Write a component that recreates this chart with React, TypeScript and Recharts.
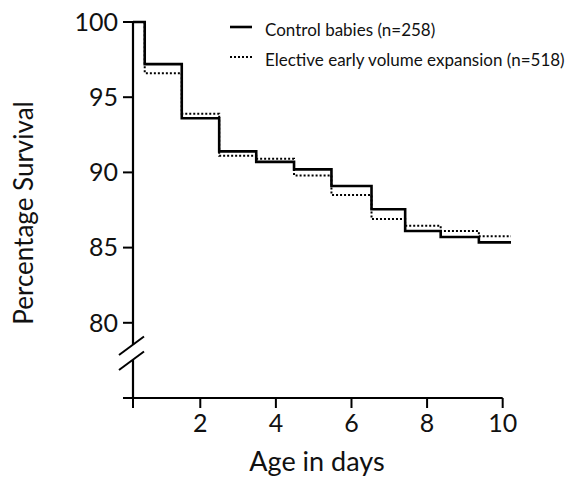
import { LineChart, Line, XAxis, YAxis, ReferenceLine } from 'recharts'

// Kaplan-Meier style survival steps
const days = [0.22, 0.53, 1.51, 2.5, 3.48, 4.48, 5.47, 6.53, 7.42, 8.36, 9.37, 10.22]
const control = [100, 97.2, 93.6, 91.4, 90.7, 90.2, 89.1, 87.55, 86.1, 85.7, 85.35, 85.35]
const elective = [100, 96.6, 93.9, 91.1, 90.9, 89.8, 88.5, 86.9, 86.45, 86.1, 85.75, 85.75]

const xTicks = [0.22, 2, 4, 6, 8, 10]
const yTicks = [75, 80, 85, 90, 95, 100]

const data = days.map((d, i) => ({ day: d, control: control[i], elective: elective[i] }))

const FONT = 'Lato, "Open Sans", sans-serif'

function LegendBox() {
    const rows = [
        { label: 'Control babies (n=258)', dash: undefined, width: 2.6 },
        { label: 'Elective early volume expansion (n=518)', dash: '2 2', width: 2 }
    ]
    return (
        <div style={{ position: 'absolute', left: 229, top: 14, fontFamily: FONT, fontSize: 17, color: '#111' }}>
            {rows.map(r => (
                <div key={r.label} style={{ display: 'flex', alignItems: 'center', height: 30 }}>
                    <svg width={24} height={6} style={{ marginRight: 12, marginTop: -4 }}>
                        <line x1={1} y1={3} x2={23} y2={3} stroke="#000" strokeWidth={r.width} strokeDasharray={r.dash} />
                    </svg>
                    <span>{r.label}</span>
                </div>
            ))}
        </div>
    )
}

export default function App() {
    return (
        <div style={{ position: 'relative', width: 579, height: 480, background: '#fff' }}>
            <style>{'body{margin:0}'}</style>
            <LineChart width={579} height={480} data={data} margin={{ top: 22, right: 68, bottom: 0, left: 0 }}>
                <XAxis
                    type="number"
                    dataKey="day"
                    domain={[0.22, 10.22]}
                    ticks={xTicks}
                    tickFormatter={(v: number) => (v < 1 ? '' : String(v))}
                    axisLine={false}
                    tickLine={{ stroke: '#000', strokeWidth: 2 }}
                    tickSize={10}
                    tickMargin={6}
                    height={82}
                    tick={{ fontSize: 25, fill: '#111', fontFamily: FONT }}
                    allowDataOverflow
                    label={{
                        content: () => (
                            <text x={317} y={471} textAnchor="middle" fontSize={27} fontFamily={FONT} fill="#111">
                                Age in days
                            </text>
                        )
                    }}
                />
                <YAxis
                    type="number"
                    domain={[75, 100]}
                    ticks={yTicks}
                    tickFormatter={(v: number) => (v === 75 ? '' : String(v))}
                    axisLine={{ stroke: '#000', strokeWidth: 2.2 }}
                    tickLine={{ stroke: '#000', strokeWidth: 2 }}
                    tickSize={10}
                    tickMargin={5}
                    width={133}
                    tick={{ fontSize: 25, fill: '#111', fontFamily: FONT }}
                    label={{
                        content: () => (
                            <text x={33} y={213} transform="rotate(-90 33 213)" textAnchor="middle" fontSize={26} fontFamily={FONT} fill="#111">
                                Percentage Survival
                            </text>
                        )
                    }}
                />
                <ReferenceLine
                    segment={[{ x: 0.22, y: 75 }, { x: 10, y: 75 }]}
                    stroke="#000"
                    strokeWidth={2.2}
                    ifOverflow="visible"
                />
                <Line type="stepAfter" dataKey="elective" stroke="#000" strokeWidth={2} strokeDasharray="2 2" dot={false} isAnimationActive={false} />
                <Line type="stepAfter" dataKey="control" stroke="#000" strokeWidth={2.6} dot={false} isAnimationActive={false} />
            </LineChart>
            <LegendBox />
            {/* axis break on the y axis */}
            <svg width={579} height={480} style={{ position: 'absolute', left: 0, top: 0, pointerEvents: 'none' }}>
                <rect x={130} y={345} width={6} height={15} fill="#fff" />
                <line x1={119} y1={355} x2={144} y2={336.5} stroke="#000" strokeWidth={2} />
                <line x1={119} y1={370} x2={144} y2={351.5} stroke="#000" strokeWidth={2} />
            </svg>
        </div>
    )
}
